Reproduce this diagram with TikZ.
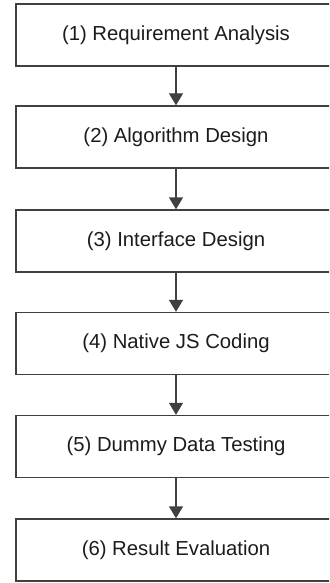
\documentclass[tikz,border=0pt]{standalone}
\usepackage{fontspec}
\setmainfont{Liberation Sans}
\usetikzlibrary{arrows.meta}
\definecolor{linegray}{HTML}{404040}
\definecolor{textgray}{HTML}{1C1C1C}
\begin{document}
\begin{tikzpicture}[x=1pt,y=-1pt,
  stepbox/.style={draw=linegray, line width=1.4pt, fill=white, minimum width=320pt, minimum height=62pt, inner sep=0pt, text=textgray, font=\fontsize{20.3}{23}\selectfont},
  flow/.style={draw=linegray, line width=1.4pt, -{Triangle[length=12pt,width=14pt]}}]
\useasboundingbox (0,0) rectangle (329,583);
\clip (0,0) rectangle (329,583);
\fill[white] (0,0) rectangle (329,583);
\node[stepbox] (s1) at (176,35) {(1) Requirement Analysis};
\node[stepbox] (s2) at (176,137) {(2) Algorithm Design};
\node[stepbox] (s3) at (176,241) {(3) Interface Design};
\node[stepbox] (s4) at (176,343.5) {(4) Native JS Coding};
\node[stepbox] (s5) at (176,446.5) {(5) Dummy Data Testing};
\node[stepbox] (s6) at (176,550) {(6) Result Evaluation};
\draw[flow] (s1.south) -- (s2.north);
\draw[flow] (s2.south) -- (s3.north);
\draw[flow] (s3.south) -- (s4.north);
\draw[flow] (s4.south) -- (s5.north);
\draw[flow] (s5.south) -- (s6.north);
\end{tikzpicture}
\end{document}
